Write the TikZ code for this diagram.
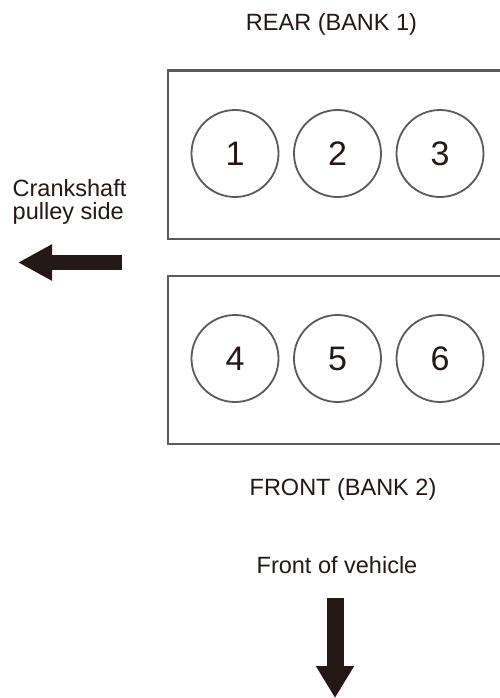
\documentclass[tikz,border=0pt]{standalone}
\usepackage{fontspec}
\setmainfont{Liberation Sans}
\usetikzlibrary{arrows.meta}
\definecolor{ink}{HTML}{231815}
\definecolor{linegray}{HTML}{5A5A5A}
\begin{document}
\begin{tikzpicture}[x=1pt,y=-1pt,
  lbl/.style={inner sep=0pt, text=ink, font=\fontsize{23.5}{23}\selectfont},
  bank/.style={draw=linegray, line width=2.6pt, minimum width=354pt, minimum height=168pt, inner sep=0pt, anchor=north west},
  cyl/.style={circle, draw=linegray, line width=1.8pt, minimum size=87pt, inner sep=0pt, text=ink, font=\fontsize{34}{34}\selectfont},
  bigarrow/.style={draw=ink, -{Triangle[length=32pt,width=36pt]}}
]
\useasboundingbox (0,0) rectangle (500,698);
\clip (0,0) rectangle (500,698);
\fill[white] (0,0) rectangle (500,698);
% banks
\node[bank] (bank1) at (166.5,69.5) {};
\node[bank] (bank2) at (166.5,274.5) {};
% cylinders
\node[cyl] (c1) at (235,153.5) {1};
\node[cyl] (c2) at (337.5,153.5) {2};
\node[cyl] (c3) at (440,153.5) {3};
\node[cyl] (c4) at (235,358.5) {4};
\node[cyl] (c5) at (337.5,358.5) {5};
\node[cyl] (c6) at (440,358.5) {6};
% labels
\node[lbl] (rear) at (331.5,24) {REAR (BANK 1)};
\node[lbl] (front) at (343,489) {FRONT (BANK 2)};
\node[lbl] (fov) at (337,565) {Front of vehicle};
\node[lbl, anchor=west, align=left] (crank) at (12.5,201.5) {Crankshaft\\pulley side};
% arrows
\coordinate (la) at (122,262.5);
\coordinate (lb) at (18,262.5);
\draw[bigarrow, line width=15pt, -{Triangle[length=34pt,width=34pt]}] (la) -- (lb);
\coordinate (da) at (335,598);
\coordinate (db) at (335,698);
\draw[bigarrow, line width=17pt] (da) -- (db);
\end{tikzpicture}
\end{document}
